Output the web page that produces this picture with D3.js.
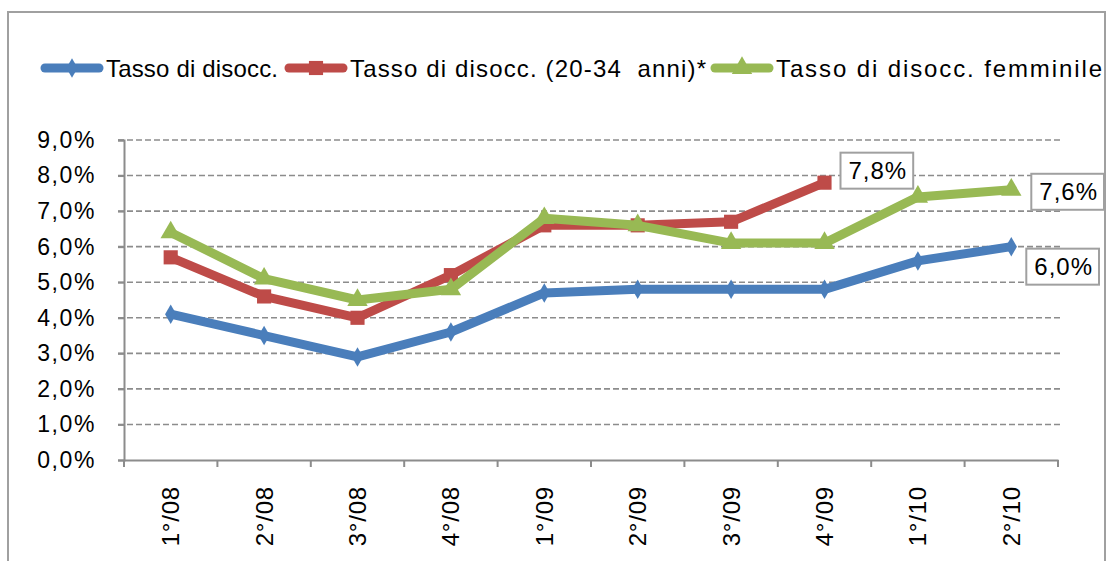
<!DOCTYPE html>
<html>
<head>
<meta charset="utf-8">
<script src="https://cdn.jsdelivr.net/npm/d3@7"></script>
<style>
  body { margin: 0; background: #fff; }
  text { font-family: "Liberation Sans", Arial, sans-serif; fill: #000; }
</style>
</head>
<body>
<svg id="chart" width="1108" height="561"></svg>
<script>
// Quarters on the x axis
const categories = ["1°/08", "2°/08", "3°/08", "4°/08", "1°/09", "2°/09", "3°/09", "4°/09", "1°/10", "2°/10"];

// Unemployment rates, in percent (null = not available)
const tassoDisocc = [4.1, 3.5, 2.9, 3.6, 4.7, 4.8, 4.8, 4.8, 5.6, 6.0];
const tassoGiovani = [5.7, 4.6, 4.0, 5.2, 6.6, 6.6, 6.7, 7.8, null, null];
const tassoFemminile = [6.4, 5.1, 4.5, 4.8, 6.8, 6.6, 6.1, 6.1, 7.4, 7.6];

const yTicks = [0, 1, 2, 3, 4, 5, 6, 7, 8, 9];

const seriesNames = ["Tasso di disocc.", "Tasso di disocc. (20-34  anni)*", "Tasso di disocc. femminile"];

const series = [
    { name: seriesNames[0], values: tassoDisocc, color: "#4a7ebb", marker: "diamond" },
    { name: seriesNames[1], values: tassoGiovani, color: "#be4b48", marker: "square" },
    { name: seriesNames[2], values: tassoFemminile, color: "#98b954", marker: "triangle" }
];

const svg = d3.select("#chart");
const fmt = v => v.toFixed(1).replace(".", ",") + "%";

// Outer frame (bottom edge is cut off in the original)
svg.append("path")
    .attr("d", "M8,561 L8,12 L1105,12 L1105,561")
    .attr("fill", "none")
    .attr("stroke", "#a0a0a0")
    .attr("stroke-width", 2);

const x = d3.scaleBand().domain(categories).range([124, 1058]);
const y = d3.scaleLinear().domain([0, 9]).range([460, 140]);

// Horizontal dashed gridlines
svg.append("g")
    .selectAll("line")
    .data(yTicks.slice(1))
    .join("line")
    .attr("x1", 118)
    .attr("x2", 1062)
    .attr("y1", d => y(d))
    .attr("y2", d => y(d))
    .attr("stroke", "#8c8c8c")
    .attr("stroke-width", 1.6)
    .attr("stroke-dasharray", "6,3");

// Y axis
const yAxis = svg.append("g")
    .attr("transform", "translate(124,0)")
    .call(d3.axisLeft(y).tickValues(yTicks).tickFormat(fmt).tickSize(6).tickPadding(22));
yAxis.selectAll("text")
    .style("font-size", "23px")
    .style("letter-spacing", "1.6px")
    .style("font-family", "Liberation Sans, Arial, sans-serif");

// X axis
const xAxis = svg.append("g")
    .attr("transform", "translate(0,460)")
    .call(d3.axisBottom(x).tickSize(0).tickPadding(0));
xAxis.selectAll(".tick text")
    .attr("transform", "rotate(-90)")
    .attr("x", -26)
    .attr("y", 0)
    .attr("dy", "0.35em")
    .style("text-anchor", "end")
    .style("font-size", "24px")
    .style("letter-spacing", "0.8px")
    .style("font-family", "Liberation Sans, Arial, sans-serif");

// X tick marks at the band boundaries
const bounds = categories.map(c => x(c)).concat([x.range()[1]]);
svg.append("g")
    .selectAll("line")
    .data(bounds)
    .join("line")
    .attr("x1", d => d)
    .attr("x2", d => d)
    .attr("y1", 460)
    .attr("y2", 467)
    .attr("stroke", "#8c8c8c")
    .attr("stroke-width", 2);

svg.selectAll(".domain").attr("stroke", "#8c8c8c").attr("stroke-width", 2);
svg.selectAll(".tick line").attr("stroke", "#8c8c8c").attr("stroke-width", 2);

const cx = c => x(c) + x.bandwidth() / 2;

const markerPath = {
    diamond: d3.symbol().type(d3.symbolDiamond).size(110),
    square: d3.symbol().type(d3.symbolSquare).size(200),
    triangle: d3.symbol().type(d3.symbolTriangle).size(180)
};

const line = d3.line()
    .defined(d => d.v !== null)
    .x(d => cx(d.c))
    .y(d => y(d.v));

series.forEach(s => {
    const pts = categories.map((c, i) => ({ c: c, v: s.values[i] }));
    const g = svg.append("g");
    g.append("path")
        .datum(pts)
        .attr("d", line)
        .attr("fill", "none")
        .attr("stroke", s.color)
        .attr("stroke-width", 9)
        .attr("stroke-linejoin", "round");
    g.selectAll("path.mk")
        .data(pts.filter(d => d.v !== null))
        .join("path")
        .attr("class", "mk")
        .attr("d", markerPath[s.marker])
        .attr("transform", d => `translate(${cx(d.c)},${y(d.v)})`)
        .attr("fill", s.color);
});

// Data labels on the last point of each series
const labelOffsets = [
    { dx: 15, dy: 20 },
    { dx: 16, dy: -12 },
    { dx: 20, dy: 2 }
];
series.forEach((s, i) => {
    let last = s.values.length - 1;
    while (s.values[last] === null) last--;
    const px = cx(categories[last]);
    const py = y(s.values[last]);
    const off = labelOffsets[i];
    const g = svg.append("g").attr("transform", `translate(${px + off.dx},${py + off.dy})`);
    const t = g.append("text")
        .attr("x", 8)
        .attr("dy", "0.36em")
        .style("font-size", "24px")
        .style("letter-spacing", "1px")
        .text(fmt(s.values[last]));
    const w = t.node().getComputedTextLength();
    g.insert("rect", "text")
        .attr("x", 0)
        .attr("y", -18)
        .attr("width", w + 14)
        .attr("height", 36)
        .attr("fill", "#fff")
        .attr("stroke", "#a0a0a0")
        .attr("stroke-width", 2);
});

// Legend
const legendPos = [43, 287, 713];
const legendTextWidth = [172, 356, 326];
series.forEach((s, i) => {
    const g = svg.append("g").attr("transform", `translate(${legendPos[i]},68)`);
    g.append("line")
        .attr("x1", 2).attr("x2", 56)
        .attr("stroke", s.color)
        .attr("stroke-width", 9)
        .attr("stroke-linecap", "round");
    g.append("path")
        .attr("d", markerPath[s.marker])
        .attr("transform", "translate(29,0)")
        .attr("fill", s.color);
    g.append("text")
        .attr("x", 63)
        .attr("dy", "0.36em")
        .attr("xml:space", "preserve")
        .attr("textLength", legendTextWidth[i])
        .attr("lengthAdjust", "spacing")
        .style("font-size", "24px")
        .style("white-space", "pre")
        .text(s.name);
});
</script>
</body>
</html>
